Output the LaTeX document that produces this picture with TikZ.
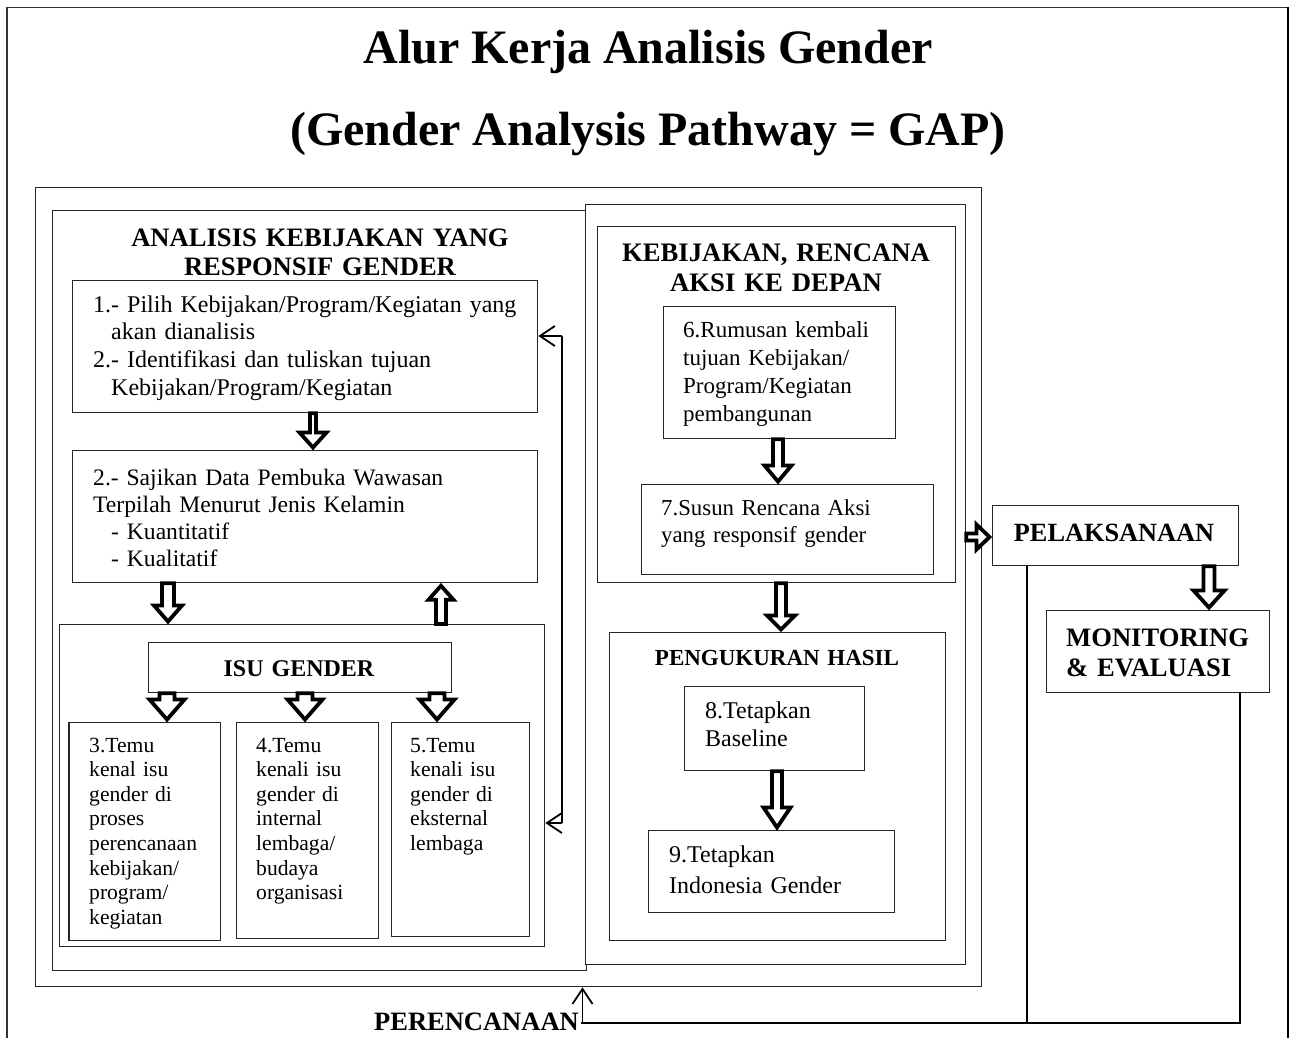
\documentclass[tikz,border=0pt]{standalone}
\usepackage{fontspec}
\setmainfont{Liberation Serif}
\usetikzlibrary{calc,arrows.meta}
\tikzset{
  frame/.style={draw=black!85, line width=1.3pt, inner sep=0pt, anchor=north west},
  txt/.style={inner sep=0pt, anchor=base west, align=left, text width=#1},
  txt/.default=460pt,
  hd/.style={inner sep=0pt, anchor=base, align=center, text width=500pt},
  blkarrow/.style={draw=black, line width=3.8pt, fill=white, line join=miter, miter limit=10},
  conn/.style={line width=2.8pt},
  fb/.style={line width=1.8pt, -{Straight Barb[length=15pt,width=20pt,line width=1.8pt]}},
}
\newcommand\blockarr[5]{%
  \coordinate (bkA) at #4; \coordinate (bkT) at #5;
  \coordinate (bkB) at ($(bkT)!2.5pt!(bkA)$);
  \coordinate (bkH) at ($(bkB)!#3!(bkA)$);
  \draw[blkarrow] ($(bkA)!#1!90:(bkB)$) -- ($(bkH)!#1!-90:(bkA)$) -- ($(bkH)!#2!-90:(bkA)$) -- (bkB)
    -- ($(bkH)!#2!90:(bkA)$) -- ($(bkH)!#1!90:(bkA)$) -- ($(bkA)!#1!-90:(bkB)$) -- cycle;
}
\begin{document}
\begin{tikzpicture}[x=1pt,y=-1pt]
\useasboundingbox (0,0) rectangle (1293,1038);
\fill[white] (0,0) rectangle (1293,1038);
% outer frame
\draw[black!80, line width=1.3pt] (7,1040) -- (7,7.5) -- (1288,7.5);
\draw[black, line width=2.6pt] (1288,7) -- (1288,1040);
% title
\node[inner sep=0pt, anchor=base, font=\bfseries\fontsize{48}{50}\selectfont] (title1) at (648,64) {Alur Kerja Analisis Gender};
\node[inner sep=0pt, anchor=base, font=\bfseries\fontsize{48}{50}\selectfont] (title2) at (648,146) {(Gender Analysis Pathway = GAP)};
% containers
\node[frame, minimum width=946pt, minimum height=799pt] (A) at (35,187) {};
\node[frame, minimum width=534pt, minimum height=760pt] (B) at (52,210) {};
\node[frame, fill=white, minimum width=380.5pt, minimum height=760pt] (C) at (584.5,204) {};
\node[frame, minimum width=358pt, minimum height=356pt] (D) at (597,226) {};
\node[frame, minimum width=336pt, minimum height=308pt] (E) at (609,632) {};
\node[frame, minimum width=485.5pt, minimum height=322pt] (F) at (58.5,624) {};
% boxes
\node[frame, minimum width=465pt, minimum height=132pt] (b1) at (72,280) {};
\node[frame, minimum width=465pt, minimum height=132pt] (b2) at (72,450) {};
\node[frame, minimum width=302.6pt, minimum height=50pt] (isu) at (148,642) {};
\node[frame, minimum width=151.6pt, minimum height=218pt] (b3) at (68.4,722) {};
\node[frame, minimum width=142pt, minimum height=216pt] (b4) at (236,722) {};
\node[frame, minimum width=138pt, minimum height=214pt] (b5) at (390.5,722) {};
\node[frame, minimum width=232pt, minimum height=132pt] (b6) at (663,306) {};
\node[frame, minimum width=292pt, minimum height=90pt] (b7) at (641,484) {};
\node[frame, minimum width=180pt, minimum height=84pt] (b8) at (684,686) {};
\node[frame, minimum width=246pt, minimum height=82pt] (b9) at (648,830) {};
\node[frame, minimum width=246pt, minimum height=60pt] (pel) at (992,505) {};
\node[frame, minimum width=223pt, minimum height=82pt] (mon) at (1046,610) {};
% headings
\node[hd, font=\bfseries\fontsize{26.6}{29}\selectfont] (hA) at (320,246) {ANALISIS KEBIJAKAN YANG\\RESPONSIF GENDER};
\node[hd, font=\bfseries\fontsize{26.7}{30}\selectfont] (hK) at (776,261) {KEBIJAKAN, RENCANA\\AKSI KE DEPAN};
\node[hd, font=\bfseries\fontsize{23}{26}\selectfont] (hP) at (777,665) {PENGUKURAN HASIL};
\node[hd, font=\bfseries\fontsize{24}{26}\selectfont] (hI) at (299,676) {ISU GENDER};
\node[hd, font=\bfseries\fontsize{26.3}{28}\selectfont] (hPel) at (1114,541) {PELAKSANAAN};
\node[txt=220pt, font=\bfseries\fontsize{26.6}{30.5}\selectfont] (hMon) at (1066,646) {MONITORING\\\& EVALUASI};
\node[inner sep=0pt, anchor=base east, font=\bfseries\fontsize{26.5}{28}\selectfont] (hPer) at (579,1030) {PERENCANAAN};
% texts
\node[txt, font=\fontsize{24}{27.7}\selectfont] (t1) at (93,312) {1.- Pilih Kebijakan/Program/Kegiatan yang\\\hspace*{18pt}akan dianalisis\\2.- Identifikasi dan tuliskan tujuan\\\hspace*{18pt}Kebijakan/Program/Kegiatan};
\node[txt, font=\fontsize{23.6}{27.3}\selectfont] (t2) at (93,485) {2.- Sajikan Data Pembuka Wawasan\\Terpilah Menurut Jenis Kelamin\\\hspace*{18pt}- Kuantitatif\\\hspace*{18pt}- Kualitatif};
\node[txt=140pt, font=\fontsize{21.6}{24.6}\selectfont] (t3) at (89,752) {3.Temu\\kenal isu\\gender di\\proses\\perencanaan\\kebijakan/\\program/\\kegiatan};
\node[txt=130pt, font=\fontsize{21.6}{24.6}\selectfont] (t4) at (256,752) {4.Temu\\kenali isu\\gender di\\internal\\lembaga/\\budaya\\organisasi};
\node[txt=120pt, font=\fontsize{21.6}{24.6}\selectfont] (t5) at (410,752) {5.Temu\\kenali isu\\gender di\\eksternal\\lembaga};
\node[txt=220pt, font=\fontsize{23}{28}\selectfont] (t6) at (683,337) {6.Rumusan kembali\\tujuan Kebijakan/\\Program/Kegiatan\\pembangunan};
\node[txt=270pt, font=\fontsize{22.8}{27.7}\selectfont] (t7) at (661,515) {7.Susun Rencana Aksi\\yang responsif gender};
\node[txt=160pt, font=\fontsize{24}{28.4}\selectfont] (t8) at (705,718) {8.Tetapkan\\Baseline};
\node[txt=230pt, font=\fontsize{24}{31.3}\selectfont] (t9) at (669,862) {9.Tetapkan\\Indonesia Gender};
% helper coordinates
\coordinate (x1) at (313,0);
\coordinate (x2) at (168,0);
\coordinate (x3) at (441,0);
\coordinate (x4) at (167,0);
\coordinate (x5) at (305,0);
\coordinate (x6) at (437,0);
\coordinate (x7) at (778,0);
\coordinate (x8) at (781,0);
\coordinate (x9) at (777,0);
\coordinate (x10) at (1209,0);
\coordinate (y1) at (0,537);
% block arrows
\blockarr{3pt}{13.5pt}{15pt}{(b1.south -| x1)}{(b2.north -| x1)}
\blockarr{6pt}{14pt}{16pt}{(b2.south -| x2)}{(F.north -| x2)}
\blockarr{5pt}{12.5pt}{14pt}{(F.north -| x3)}{(b2.south -| x3)}
\blockarr{7.5pt}{17.5pt}{20pt}{(isu.south -| x4)}{(b3.north -| x4)}
\blockarr{7.5pt}{17.5pt}{20pt}{(isu.south -| x5)}{(b4.north -| x5)}
\blockarr{7.5pt}{17.5pt}{20pt}{(isu.south -| x6)}{(b5.north -| x6)}
\blockarr{5pt}{13.5pt}{16pt}{(b6.south -| x7)}{(b7.north -| x7)}
\blockarr{5pt}{14pt}{14pt}{(D.south -| x8)}{(E.north -| x8)}
\blockarr{5pt}{13.5pt}{20pt}{(b8.south -| x9)}{(b9.north -| x9)}
\blockarr{3.5pt}{12.5pt}{13pt}{(C.east |- y1)}{(pel.west |- y1)}
\blockarr{5.5pt}{15.5pt}{17pt}{(pel.south -| x10)}{(mon.north -| x10)}
% feedback loop on the left
\coordinate (fbT) at (562,336);
\coordinate (fbB) at (562,823);
\draw[line width=1.8pt] (fbT) -- (fbB);
\draw[fb] (fbT) -- (b1.east |- fbT);
\draw[fb] (fbB) -- (F.east |- fbB);
% bottom loop
\coordinate (pb) at (1027,1023);
\coordinate (mb) at (1240,1023);
\coordinate (perB) at (582.5,1023);
\draw[conn] (pel.south -| pb) -- (pb);
\draw[conn, line cap=rect] (mon.south -| mb) -- (mb) -- (perB);
\draw[fb] (perB) -- (A.south -| perB);
\end{tikzpicture}
\end{document}
